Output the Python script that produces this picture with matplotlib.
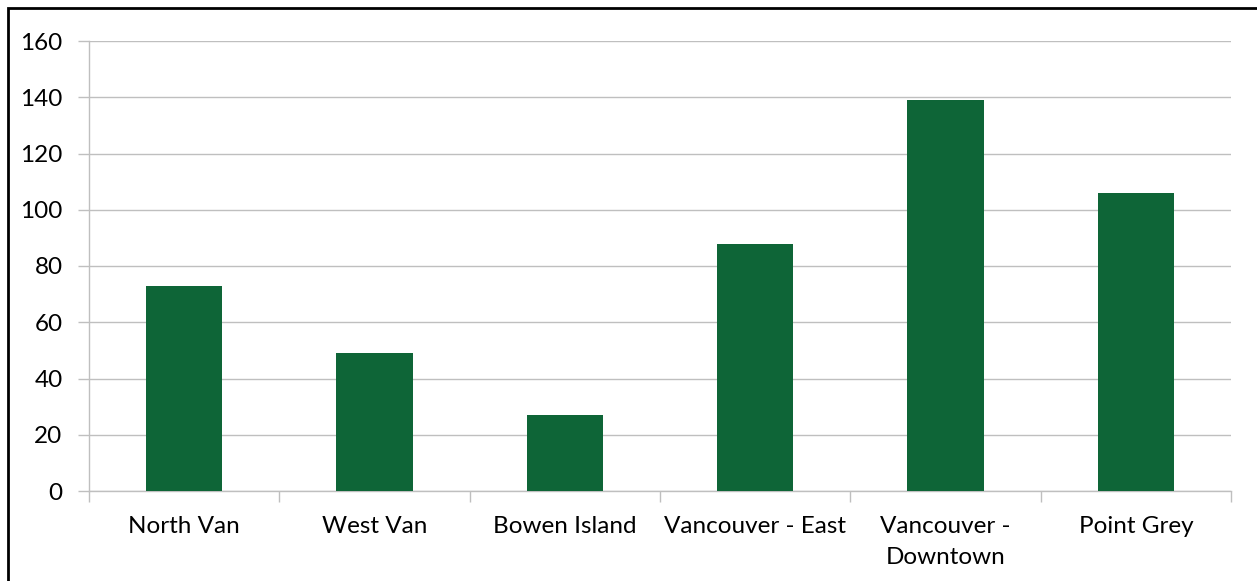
import matplotlib.pyplot as plt
from matplotlib.patches import Rectangle

areas = ['North Van', 'West Van', 'Bowen Island', 'Vancouver - East',
         'Vancouver -\nDowntown', 'Point Grey']
counts = [73, 49, 27, 88, 139, 106]
yticks = [0, 20, 40, 60, 80, 100, 120, 140, 160]

plt.rcParams['font.family'] = ['Lato', 'DejaVu Sans']

fig = plt.figure(figsize=(12.57, 5.81), dpi=100)
ax = fig.add_axes([89 / 1257, 1 - 491 / 581, (1231 - 89) / 1257, (491 - 41) / 581])

x = list(range(len(areas)))
ax.bar(x, counts, width=0.4, color='#0E6537', zorder=3)

ax.set_xlim(-0.5, len(areas) - 0.5)
ax.set_ylim(0, 160)
ax.set_yticks(yticks)
ax.set_yticklabels([str(v) for v in yticks], fontsize=17.5)
ax.yaxis.grid(True, color='#BFBFBF', linewidth=1, zorder=0)

# category labels between the boundary ticks
ax.set_xticks([i - 0.5 for i in range(len(areas) + 1)])
ax.set_xticklabels([])
ax.set_xticks(x, minor=True)
ax.set_xticklabels(areas, minor=True, fontsize=17.5, linespacing=1.6, va='top')
ax.tick_params(axis='x', which='minor', length=0, pad=18)
ax.tick_params(axis='x', which='major', length=8, color='#BFBFBF', width=1)
ax.tick_params(axis='y', length=8, color='#BFBFBF', width=1, pad=11)

for side in ['top', 'right']:
    ax.spines[side].set_visible(False)
for side in ['left', 'bottom']:
    ax.spines[side].set_color('#BFBFBF')
    ax.spines[side].set_linewidth(1)

# outer chart-area border
fig.patches.append(Rectangle((8 / 1257, -0.1), 1.2, 1 - 8 / 581 + 0.1,
                             transform=fig.transFigure, fill=False,
                             edgecolor='black', linewidth=2))

fig.savefig('out.png', dpi=100)
